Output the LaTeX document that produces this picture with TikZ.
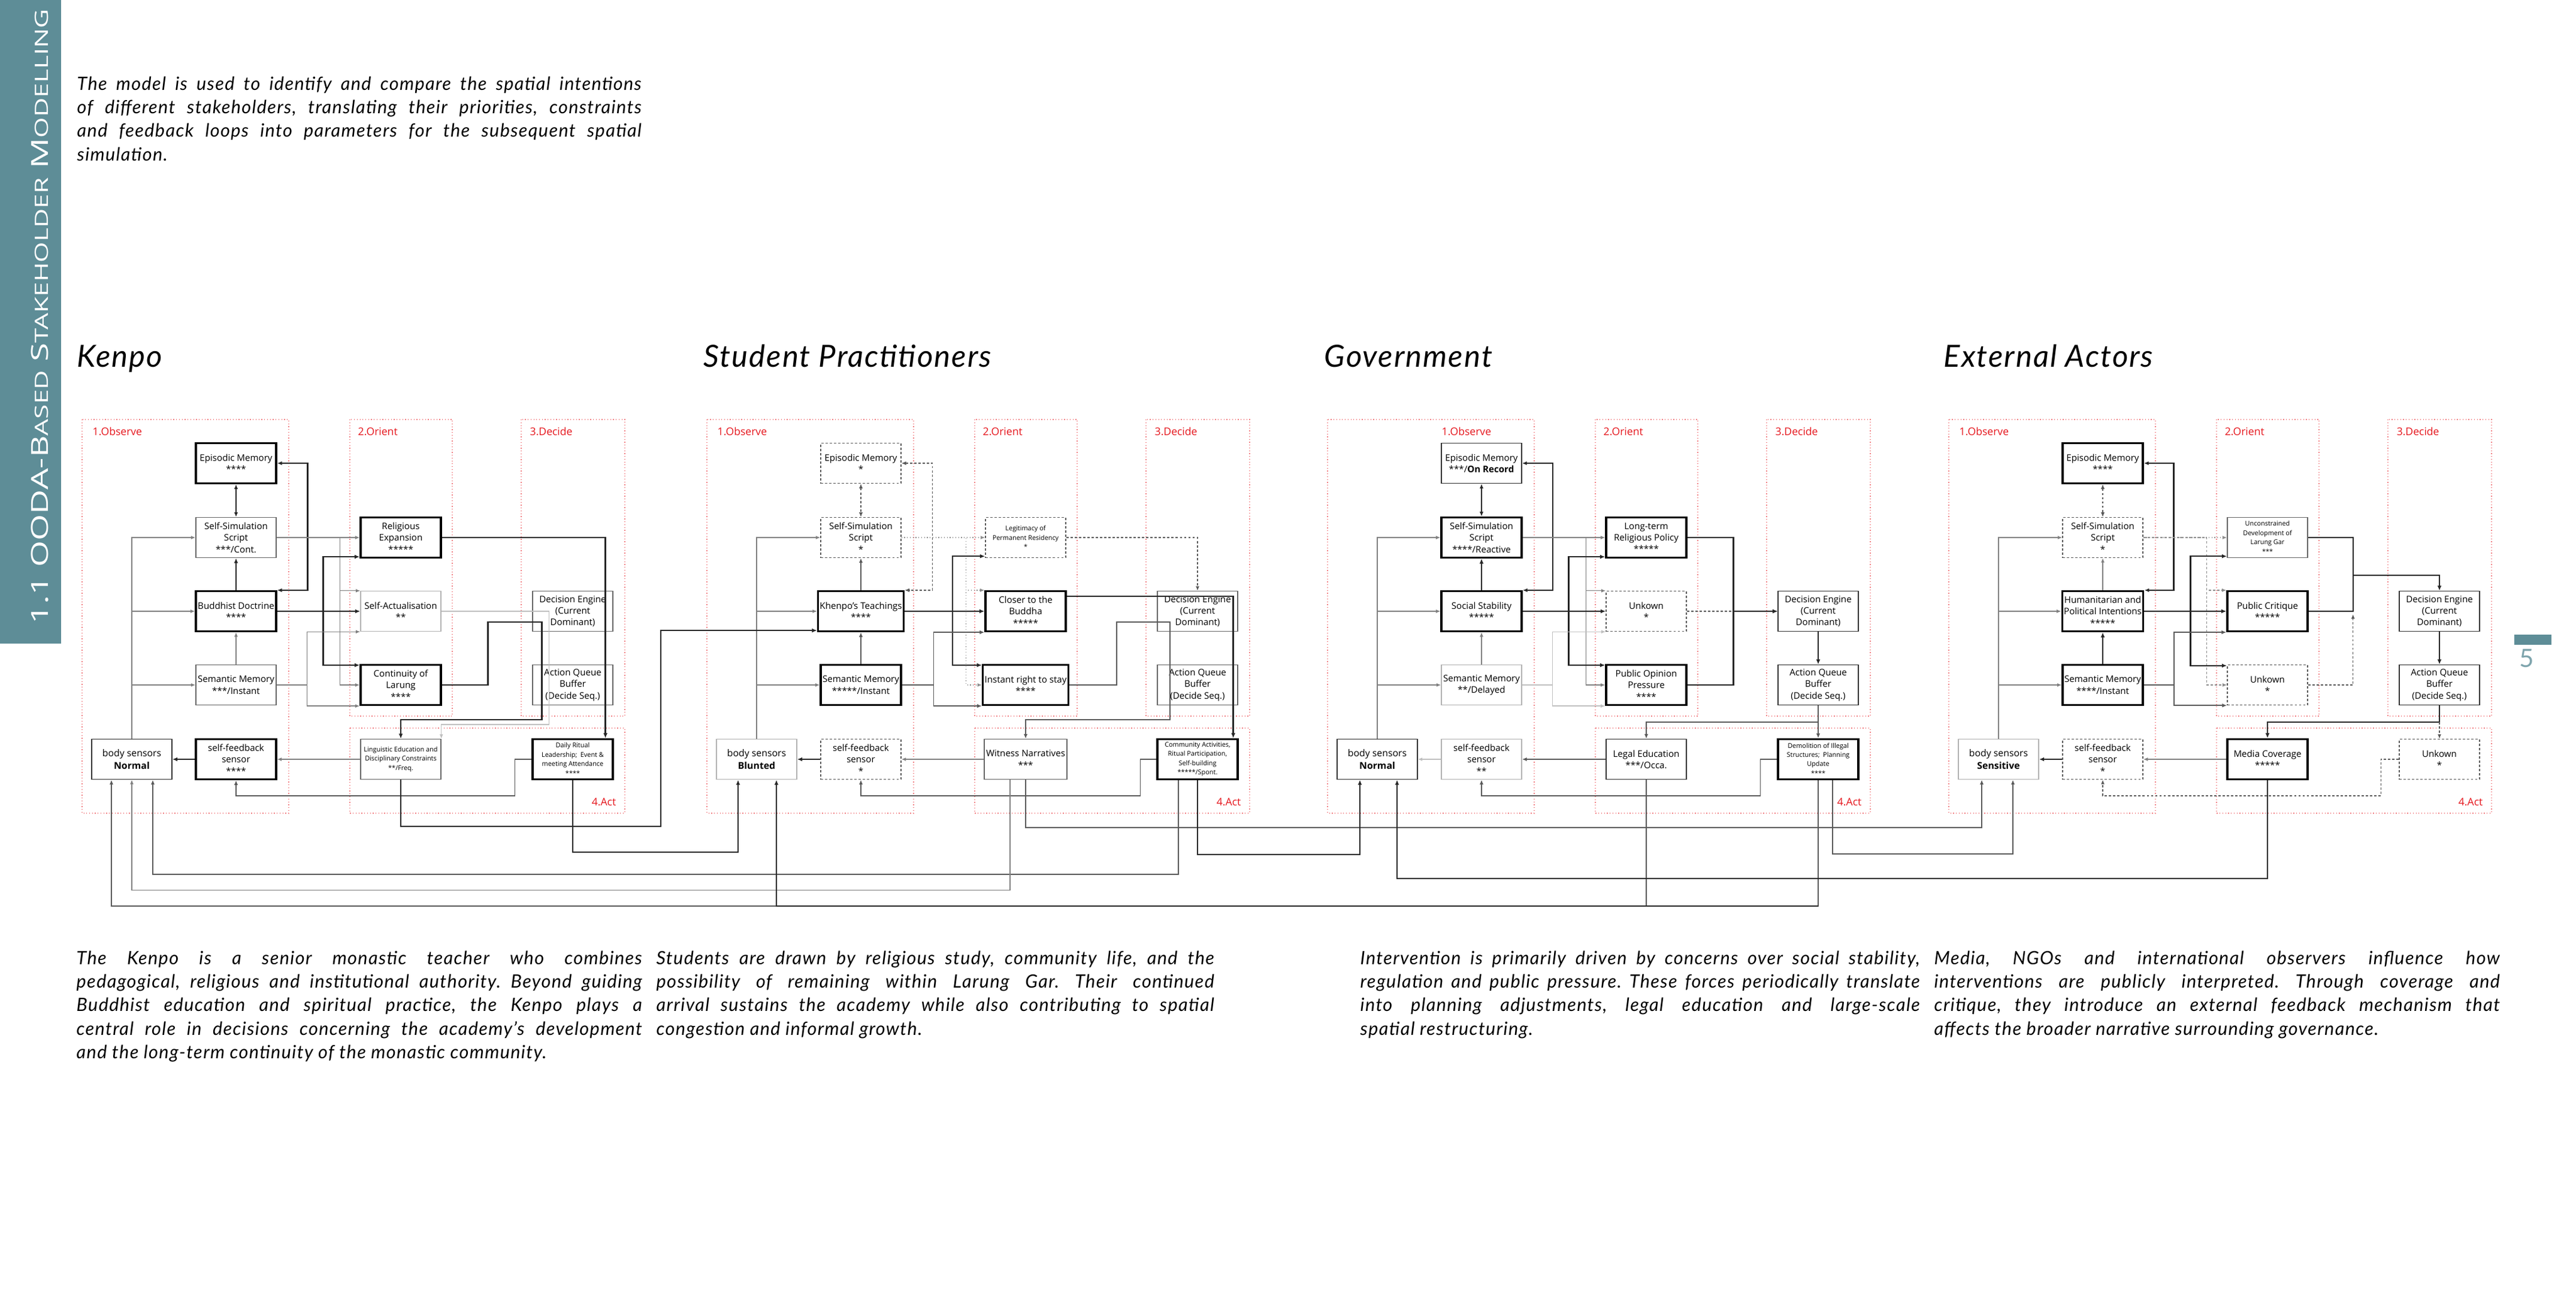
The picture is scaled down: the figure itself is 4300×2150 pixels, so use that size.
\documentclass[tikz,border=0pt]{standalone}
\usepackage{fontspec}
\setmainfont{Open Sans}
\newfontfamily\prosefont[LetterSpace=4.5]{Lato}
\newfontfamily\headfont[LetterSpace=4]{Lato}
\usepackage{graphicx}
\usepackage{tikz}
\usetikzlibrary{arrows.meta,positioning,calc}
\frenchspacing
\definecolor{sidebar}{HTML}{5E8D97}
\definecolor{phasered}{HTML}{E5161D}
\newcommand\boxtext{\fontsize{4.3}{5.5}\selectfont}
\newcommand\smalltextfont{\fontsize{3.1}{4.4}\selectfont}
\newcommand\sensortext{\fontsize{4.5}{6}\selectfont}
\newcommand\phasetext{\fontsize{5}{5}\selectfont}
\newcommand\smallcap[1]{{\fontsize{8.6}{9}\selectfont #1}}
\tikzset{
    box/.style={draw=black!60, fill=white, line width=0.4pt, minimum width=13.4mm, minimum height=6.7mm, inner sep=0.3mm, align=center, font=\boxtext},
    strong/.style={box, draw=black, line width=0.9pt},
    faint/.style={box, draw=black!30},
    unsure/.style={box, draw=black!65, dash pattern=on 1.1pt off 0.9pt},
    sensor/.style={font=\sensortext},
    smalltext/.style={font=\smalltextfont},
    phaseframe/.style={draw=phasered!55, densely dotted, line width=0.35pt},
    phaselabel/.style={text=phasered, font=\phasetext, inner sep=0},
    heavy/.style={-{Latex[length=0.85mm, width=0.7mm]}, line width=0.7pt, black!85},
    medium/.style={-{Latex[length=0.8mm, width=0.65mm]}, line width=0.5pt, black!65},
    soft/.style={-{Latex[length=0.75mm, width=0.6mm]}, line width=0.35pt, black!50},
    pale/.style={soft, black!25},
    guess/.style={soft, black!65, dash pattern=on 1.1pt off 0.9pt},
    dotline/.style={soft, black!45, densely dotted},
    twoway/.style={{Latex[length=0.8mm, width=0.65mm]}-{Latex[length=0.8mm, width=0.65mm]}},
    heading/.style={font=\headfont\itshape\fontsize{14.5}{16}\selectfont, inner sep=0, anchor=base west},
    prose/.style={font=\prosefont\itshape\fontsize{8.7}{11.2}\selectfont, inner sep=0, align=justify, anchor=base west}
}

\begin{document}
\begin{tikzpicture}[x=0.1mm, y=-0.1mm]
    \useasboundingbox (0,0) rectangle (4300,2150);

    % side bar and page number
    \fill[sidebar] (0,0) rectangle (102,1074);
    \node[rotate=90, anchor=base, text=white, inner sep=0] (sidetitle) at (80,528)
        {\resizebox{102.6mm}{2.85mm}{\fontsize{11}{12}\selectfont 1.1 OODA-B\smallcap{ASED} S\smallcap{TAKEHOLDER} M\smallcap{ODELLING}}};
    \fill[sidebar] (4197,1059) rectangle (4259,1076);
    \node[font=\headfont\fontsize{12}{12}\selectfont, text=sidebar!80, anchor=base west, inner sep=0] (pagenum) at (4205,1113) {5};

    \node[prose, text width=94.2mm] (intro) at (128,150) {The model is used to identify and compare the spatial intentions\linebreak of different stakeholders, translating their priorities, constraints\linebreak and feedback loops into parameters for the subsequent spatial\linebreak simulation.};

    \node[heading] (kenpotitle) at (128,612) {Kenpo};
    \node[heading] (studenttitle) at (1174,612) {Student Practitioners};
    \node[heading] (govtitle) at (2210,612) {Government};
    \node[heading] (exttitle) at (3244,612) {External Actors};

    % OODA frames
    \foreach \px/\lx/\pn in {137/17/k, 1180/17/s, 2216/190/g, 3253/17/e} {
        \begin{scope}[shift={(\px,0)}]
            \draw[phaseframe] (0,700) rectangle (345,1357);
            \draw[phaseframe] (447,700) rectangle (618,1195);
            \draw[phaseframe] (733,700) rectangle (906,1195);
            \draw[phaseframe] (447,1215) rectangle (906,1357);
            \node[phaselabel, anchor=base west] (\pn obs) at (\lx,726) {1.Observe};
            \node[phaselabel, anchor=base west] (\pn ori) at (460,726) {2.Orient};
            \node[phaselabel, anchor=base west] (\pn dec) at (747,726) {3.Decide};
            \node[phaselabel, anchor=base east] (\pn act) at (892,1344) {4.Act};
        \end{scope}
    }

    % Kenpo
    \begin{scope}[shift={(137,0)}]
        \node[strong] (kep) at (257,773) {Episodic Memory\\****};
        \node[box] (kss) at (257,897) {Self-Simulation\\Script\\***/Cont.};
        \node[strong] (kbd) at (257,1020) {Buddhist Doctrine\\****};
        \node[box] (ksm) at (257,1143) {Semantic Memory\\***/Instant};
        \node[strong] (kfb) at (257,1267) {self-feedback\\sensor\\****};
        \node[box, draw=black!80, sensor] (kbs) at (83,1267) {body sensors\\\textbf{Normal}};
        \node[strong] (kre) at (532,897) {Religious\\Expansion\\*****};
        \node[faint] (ksa) at (532,1020) {Self-Actualisation\\**};
        \node[strong] (kcl) at (532,1143) {Continuity of\\Larung\\****};
        \node[box] (kde) at (819,1020) {Decision Engine\\(Current\\Dominant)};
        \node[box] (kaq) at (819,1143) {Action Queue\\Buffer\\(Decide Seq.)};
        \node[box, smalltext] (kle) at (532,1267) {Linguistic Education and\\Disciplinary Constraints\\**/Freq.};
        \node[strong, smalltext] (kdr) at (819,1267) {Daily Ritual\\Leadership;\enspace Event \&\\meeting Attendance\\****};

        \draw[heavy, twoway] (kep.south) -- (kss.north);
        \draw[heavy] (kbd.north) -- (kss.south);
        \draw[soft] (ksm.north) -- (kbd.south);
        \draw[heavy, twoway] (kep.east) -- ++(51,0) |- (kbd.north east);
        \draw[soft] (kbs.north) |- (kss.west);
        \draw[soft] (kbs.north |- kbd.west) -- (kbd.west);
        \draw[soft] (kbs.north |- ksm.west) -- (ksm.west);
        \draw[soft] (kss.east) -- (kre.west);
        \draw[soft] (kss.east) -- ++(106,0) |- (ksa.north west);
        \draw[soft] (kss.east) -- ++(106,0) |- (kcl.west);
        \draw[heavy] (kbd.east) -- (ksa.west);
        \draw[heavy] (kbd.east) -- ++(77,0) |- ([yshift=0.3mm]kre.south west);
        \draw[heavy] (kbd.east) -- ++(77,0) |- ([yshift=-0.2mm]kcl.north west);
        \draw[soft] (ksm.east) -- ++(51,0) |- (ksa.south west);
        \draw[soft] (ksm.east) -- ++(51,0) |- (kcl.south west);
        \draw[heavy] (kre.east) -| ([xshift=-1.4mm]kdr.north east);
        \draw[pale] (ksa.east) -| ++(180,189) -| (kle.north east);
        \draw[heavy] (kcl.east) -- ++(77,0) -- ++(0,-105) -- ++(90,0) -- ++(0,163) -| (kle.north);
        \draw[soft] (kle.west) -- (kfb.east);
        \draw[heavy] (kfb.west) -- (kbs.east);
        \draw[medium] (kdr.west) -- ++(-28,0) -- ++(0,61) -| (kfb.south);
    \end{scope}

    % Student Practitioners
    \begin{scope}[shift={(1180,0)}]
        \node[unsure] (sep) at (257,773) {Episodic Memory\\*};
        \node[unsure] (sss) at (257,897) {Self-Simulation\\Script\\*};
        \node[strong] (skt) at (257,1020) {Khenpo’s Teachings\\****};
        \node[strong] (ssm) at (257,1143) {Semantic Memory\\*****/Instant};
        \node[unsure] (sfb) at (257,1267) {self-feedback\\sensor\\*};
        \node[faint, sensor] (sbs) at (83,1267) {body sensors\\\textbf{Blunted}};
        \node[unsure, smalltext] (slg) at (532,897) {Legitimacy of\\Permanent Residency\\*};
        \node[strong] (scb) at (532,1020) {Closer to the\\Buddha\\*****};
        \node[strong] (sir) at (532,1143) {Instant right to stay\\****};
        \node[box] (sde) at (819,1020) {Decision Engine\\(Current\\Dominant)};
        \node[box] (saq) at (819,1143) {Action Queue\\Buffer\\(Decide Seq.)};
        \node[box] (swn) at (532,1267) {Witness Narratives\\***};
        \node[strong, smalltext] (sca) at (819,1267) {Community Activities,\\Ritual Participation,\\Self-building\\*****/Spont.};

        \draw[guess, twoway] (sep.south) -- (sss.north);
        \draw[medium] (skt.north) -- (sss.south);
        \draw[medium] (ssm.north) -- (skt.south);
        \draw[guess, twoway] (sep.east) -- ++(52,0) |- (skt.north east);
        \draw[soft] (sbs.north) |- (sss.west);
        \draw[soft] (sbs.north |- skt.west) -- (skt.west);
        \draw[soft] (sbs.north |- ssm.west) -- (ssm.west);
        \draw[dotline] (sss.east) -- (slg.west);
        \draw[dotline] (sss.east) -- ++(108,0) |- (scb.north west);
        \draw[dotline] (sss.east) -- ++(108,0) |- (sir.west);
        \draw[heavy] (skt.east) -- (scb.west);
        \draw[heavy] (skt.east) -- ++(80,0) |- ([yshift=0.3mm]slg.south west);
        \draw[heavy] (skt.east) -- ++(80,0) |- ([yshift=-0.2mm]sir.north west);
        \draw[medium] (ssm.east) -- ++(53,0) |- (scb.south west);
        \draw[medium] (ssm.east) -- ++(53,0) |- (sir.south west);
        \draw[guess] (slg.east) -| (sde.north);
        \draw[heavy] ([yshift=-1mm]scb.north east) -| ([xshift=-0.9mm]sca.north east);
        \draw[medium] (sir.east) -- ++(79,0) -- ++(0,-105) -- ++(89,0) -- ++(0,163) -| (swn.north);
        \draw[soft] (swn.west) -- (sfb.east);
        \draw[heavy] (sfb.west) -- (sbs.east);
        \draw[medium] (sca.west) -- ++(-27,0) -- ++(0,61) -| (sfb.south);
    \end{scope}

    % Government
    \begin{scope}[shift={(2216,0)}]
        \node[box, draw=black!80] (gep) at (257,773) {Episodic Memory\\***/\textbf{On Record}};
        \node[strong] (gss) at (257,897) {Self-Simulation\\Script\\****/Reactive};
        \node[strong] (gsb) at (257,1020) {Social Stability\\*****};
        \node[faint] (gsm) at (257,1143) {Semantic Memory\\**/Delayed};
        \node[faint] (gfb) at (257,1267) {self-feedback\\sensor\\**};
        \node[box, draw=black!80, sensor] (gbs) at (83,1267) {body sensors\\\textbf{Normal}};
        \node[strong] (glp) at (532,897) {Long-term\\Religious Policy\\*****};
        \node[unsure] (gun) at (532,1020) {Unkown\\*};
        \node[strong] (gpo) at (532,1143) {Public Opinion\\Pressure\\****};
        \node[box, draw=black!80] (gde) at (819,1020) {Decision Engine\\(Current\\Dominant)};
        \node[box, draw=black!80] (gaq) at (819,1143) {Action Queue\\Buffer\\(Decide Seq.)};
        \node[box, draw=black!80] (gle) at (532,1267) {Legal Education\\***/Occa.};
        \node[strong, smalltext] (gdm) at (819,1267) {Demolition of Illegal\\Structures;\enspace Planning\\Update\\****};

        \draw[heavy, twoway] (gep.south) -- (gss.north);
        \draw[heavy] (gsb.north) -- (gss.south);
        \draw[soft] (gsm.north) -- (gsb.south);
        \draw[heavy, twoway] (gep.east) -- ++(51,0) |- (gsb.north east);
        \draw[soft] (gbs.north) |- (gss.west);
        \draw[soft] (gbs.north |- gsb.west) -- (gsb.west);
        \draw[soft] (gbs.north |- gsm.west) -- (gsm.west);
        \draw[soft] (gss.east) -- (glp.west);
        \draw[soft] (gss.east) -- ++(106,0) |- (gun.north west);
        \draw[soft] (gss.east) -- ++(106,0) |- (gpo.west);
        \draw[heavy] (gsb.east) -- (gun.west);
        \draw[heavy] (gsb.east) -- ++(77,0) |- ([yshift=0.3mm]glp.south west);
        \draw[heavy] (gsb.east) -- ++(77,0) |- ([yshift=-0.2mm]gpo.north west);
        \draw[pale] (gsm.east) -- ++(51,0) |- (gun.south west);
        \draw[pale] (gsm.east) -- ++(51,0) |- (gpo.south west);
        \draw[heavy] (glp.east) -- ++(77,0) |- (gde.west);
        \draw[heavy] (gpo.east) -- ++(77,0) |- (gde.west);
        \draw[guess, -] (gun.east) -- ++(77,0);
        \draw[heavy] (gde.south) -- (gaq.north);
        \draw[medium] (gaq.south) -- (gdm.north);
        \draw[medium] (gaq.south) -- ++(0,28) -| (gle.north);
        \draw[medium] (gle.west) -- (gfb.east);
        \draw[pale] (gfb.west) -- (gbs.east);
        \draw[medium] (gdm.west) -- ++(-28,0) -- ++(0,61) -| (gfb.south);
    \end{scope}

    % External Actors
    \begin{scope}[shift={(3253,0)}]
        \node[strong] (eep) at (257,773) {Episodic Memory\\****};
        \node[unsure] (ess) at (257,897) {Self-Simulation\\Script\\*};
        \node[strong] (ehp) at (257,1020) {Humanitarian and\\Political Intentions\\*****};
        \node[strong] (esm) at (257,1143) {Semantic Memory\\****/Instant};
        \node[unsure] (efb) at (257,1267) {self-feedback\\sensor\\*};
        \node[faint, sensor] (ebs) at (83,1267) {body sensors\\\textbf{Sensitive}};
        \node[box, smalltext] (eud) at (532,897) {Unconstrained\\Development of\\Larung Gar\\***};
        \node[strong] (epc) at (532,1020) {Public Critique\\*****};
        \node[unsure] (eun) at (532,1143) {Unkown\\*};
        \node[box, draw=black!80] (ede) at (819,1020) {Decision Engine\\(Current\\Dominant)};
        \node[box, draw=black!80] (eaq) at (819,1143) {Action Queue\\Buffer\\(Decide Seq.)};
        \node[strong] (emc) at (532,1267) {Media Coverage\\*****};
        \node[unsure] (eua) at (819,1267) {Unkown\\*};

        \draw[guess, twoway] (eep.south) -- (ess.north);
        \draw[soft] (ehp.north) -- (ess.south);
        \draw[heavy] (esm.north) -- (ehp.south);
        \draw[heavy, twoway] (eep.east) -- ++(50,0) |- (ehp.north east);
        \draw[soft] (ebs.north) |- (ess.west);
        \draw[soft] (ebs.north |- ehp.west) -- (ehp.west);
        \draw[soft] (ebs.north |- esm.west) -- (esm.west);
        \draw[dotline] (ess.east) -- (eud.west);
        \draw[guess, black!45] (ess.east) -- ++(106,0) |- (epc.north west);
        \draw[guess, black!45] (ess.east) -- ++(106,0) |- (eun.west);
        \draw[heavy] (ehp.east) -- (epc.west);
        \draw[heavy] (ehp.east) -- ++(77,0) |- ([yshift=0.3mm]eud.south west);
        \draw[heavy] (ehp.east) -- ++(77,0) |- ([yshift=-0.2mm]eun.north west);
        \draw[medium] (esm.east) -- ++(50,0) |- (epc.south west);
        \draw[medium] (esm.east) -- ++(50,0) |- (eun.south west);
        \draw[heavy, -] (eud.east) -- ++(75,0) |- (epc.east);
        \draw[heavy] ([shift={(75,63)}]eud.east) -| (ede.north);
        \draw[guess] (eun.east) -- ++(75,0) -- ++(0,-118);
        \draw[heavy] (ede.south) -- (eaq.north);
        \draw[heavy] (eaq.south) -- ++(0,28) -| (emc.north);
        \draw[guess] ([yshift=-2.8mm]eaq.south) -- (eua.north);
        \draw[soft] (emc.west) -- (efb.east);
        \draw[heavy] (efb.west) -- (ebs.east);
        \draw[guess] (eua.west) -- ++(-30,0) -- ++(0,61) -| (efb.south);
    \end{scope}

    % feedback between stakeholders
    \draw[heavy] (kle.south) -- ++(0,78) -- ++(434,0) |- ([yshift=0.3mm]skt.south west);
    \draw[heavy] (kdr.south) -- ++(0,120) -| ([xshift=-3.1mm]sbs.south);
    \draw[medium] ([xshift=-3.2mm]sca.south) -- ++(0,157) -| ([xshift=3.5mm]kbs.south);
    \draw[soft] ([xshift=-2.6mm]swn.south) -- ++(0,184) -| (kbs.south);
    \draw[medium] (gdm.south) -- ++(0,210) -| ([xshift=-3.4mm]kbs.south);
    \draw[medium, -] (gle.south) -- ++(0,210);
    \draw[heavy] ([yshift=-21mm]gdm.south) -| ([xshift=3.3mm]sbs.south);
    \draw[medium] (swn.south) -- ++(0,80) -| ([xshift=-2.8mm]ebs.south);
    \draw[heavy] (sca.south) -- ++(0,124) -| ([xshift=-2.9mm]gbs.south);
    \draw[medium] ([xshift=2.4mm]gdm.south) -- ++(0,123) -| ([xshift=2.4mm]ebs.south);
    \draw[heavy] (emc.south) -- ++(0,164) -| ([xshift=3.3mm]gbs.south);

    % descriptions
    \node[prose, text width=94.4mm] (kenpotext) at (127,1609) {The Kenpo is a senior monastic teacher who combines\linebreak pedagogical, religious and institutional authority. Beyond guiding\linebreak Buddhist education and spiritual practice, the Kenpo plays a\linebreak central role in decisions concerning the academy’s development\linebreak and the long-term continuity of the monastic community.};
    \node[prose, text width=93.1mm] (studenttext) at (1095,1609) {Students are drawn by religious study, community life, and the\linebreak possibility of remaining within Larung Gar. Their continued\linebreak arrival sustains the academy while also contributing to spatial\linebreak congestion and informal growth.};
    \node[prose, text width=93.4mm] (govtext) at (2270,1609) {Intervention is primarily driven by concerns over social stability,\linebreak regulation and public pressure. These forces periodically translate\linebreak into planning adjustments, legal education and large-scale\linebreak spatial restructuring.};
    \node[prose, text width=94.4mm] (exttext) at (3228,1609) {Media, NGOs and international observers influence how\linebreak interventions are publicly interpreted. Through coverage and\linebreak critique, they introduce an external feedback mechanism that\linebreak affects the broader narrative surrounding governance.};
\end{tikzpicture}
\end{document}
